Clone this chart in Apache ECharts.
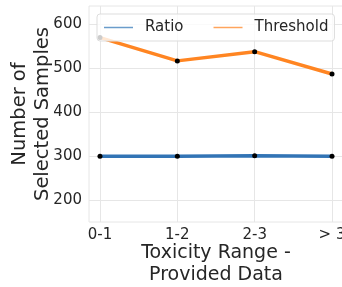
<!DOCTYPE html>
<html>
<head>
<meta charset="utf-8">
<script src="https://cdn.jsdelivr.net/npm/echarts@6/dist/echarts.min.js"></script>
<style>
  html, body { margin: 0; padding: 0; background: #fff; }
  #chart { width: 342px; height: 287px; }
</style>
</head>
<body>
<div id="chart"></div>
<script>
// 数据
const categories = ['0-1', '1-2', '2-3', '> 3']
const ratioData = [300, 300, 301, 300]
const thresholdData = [570, 517, 538, 487]
const yTicks = [200, 300, 400, 500, 600]

const ratioColor = '#3274b5'
const thresholdColor = '#ff8522'

const chart = echarts.init(document.getElementById('chart'))
const font = 'DejaVu Sans'

const toPoints = arr => arr.map((v, i) => [i, v])

chart.setOption({
  animation: false,
  textStyle: { fontFamily: font },
  grid: {
    left: 89,
    top: 6,
    right: -1,
    bottom: 65,
    outerBoundsMode: 'none',
    containLabel: false,
    show: true,
    borderColor: '#e6e6e6',
    borderWidth: 1
  },
  legend: {
    left: 97,
    top: 14,
    padding: [6, 6, 6, 7],
    itemWidth: 29,
    itemHeight: 1.5,
    itemGap: 30,
    icon: 'rect',
    backgroundColor: 'rgba(255,255,255,0.8)',
    borderColor: '#dddddd',
    borderWidth: 1,
    borderRadius: 3,
    textStyle: { fontFamily: font, fontSize: 15, color: '#262626', padding: [0, 0, 0, 7] },
    data: [
      { name: 'Ratio', itemStyle: { color: '#6a9ccb' } },
      { name: 'Threshold', itemStyle: { color: '#ffa45c' } }
    ]
  },
  xAxis: {
    type: 'value',
    min: -0.142,
    max: 3.142,
    name: 'Toxicity Range -\nProvided Data',
    nameLocation: 'middle',
    nameGap: 20,
    nameMoveOverlap: false,
    nameTextStyle: { fontFamily: font, fontSize: 19, color: '#262626', lineHeight: 22, verticalAlign: 'top' },
    axisLine: { show: false },
    axisTick: { show: false, customValues: [0, 1, 2, 3] },
    axisLabel: {
      customValues: [0, 1, 2, 3],
      formatter: v => categories[Math.round(v)],
      fontFamily: font,
      fontSize: 15,
      color: '#262626',
      margin: 6
    },
    splitLine: { show: true, lineStyle: { color: '#e6e6e6', width: 1 } }
  },
  yAxis: {
    type: 'value',
    min: 150,
    max: 642,
    name: 'Number of\nSelected Samples',
    nameLocation: 'middle',
    nameRotate: 90,
    nameGap: 35,
    nameMoveOverlap: false,
    nameTextStyle: { fontFamily: font, fontSize: 19.5, color: '#262626', lineHeight: 23 },
    axisLine: { show: false },
    axisTick: { show: false, customValues: yTicks },
    axisLabel: {
      customValues: yTicks,
      fontFamily: font,
      fontSize: 15,
      color: '#262626',
      margin: 7
    },
    splitLine: { show: true, lineStyle: { color: '#e6e6e6', width: 1 } }
  },
  series: [{
    name: 'Ratio',
    type: 'line',
    data: toPoints(ratioData),
    symbol: 'circle',
    symbolSize: 5,
    itemStyle: { color: '#000' },
    lineStyle: { color: ratioColor, width: 3.5 },
    z: 2
  }, {
    name: 'Threshold',
    type: 'line',
    data: toPoints(thresholdData),
    symbol: 'circle',
    symbolSize: 5,
    itemStyle: { color: '#000' },
    lineStyle: { color: thresholdColor, width: 3.5 },
    z: 2
  }]
})
</script>
</body>
</html>
